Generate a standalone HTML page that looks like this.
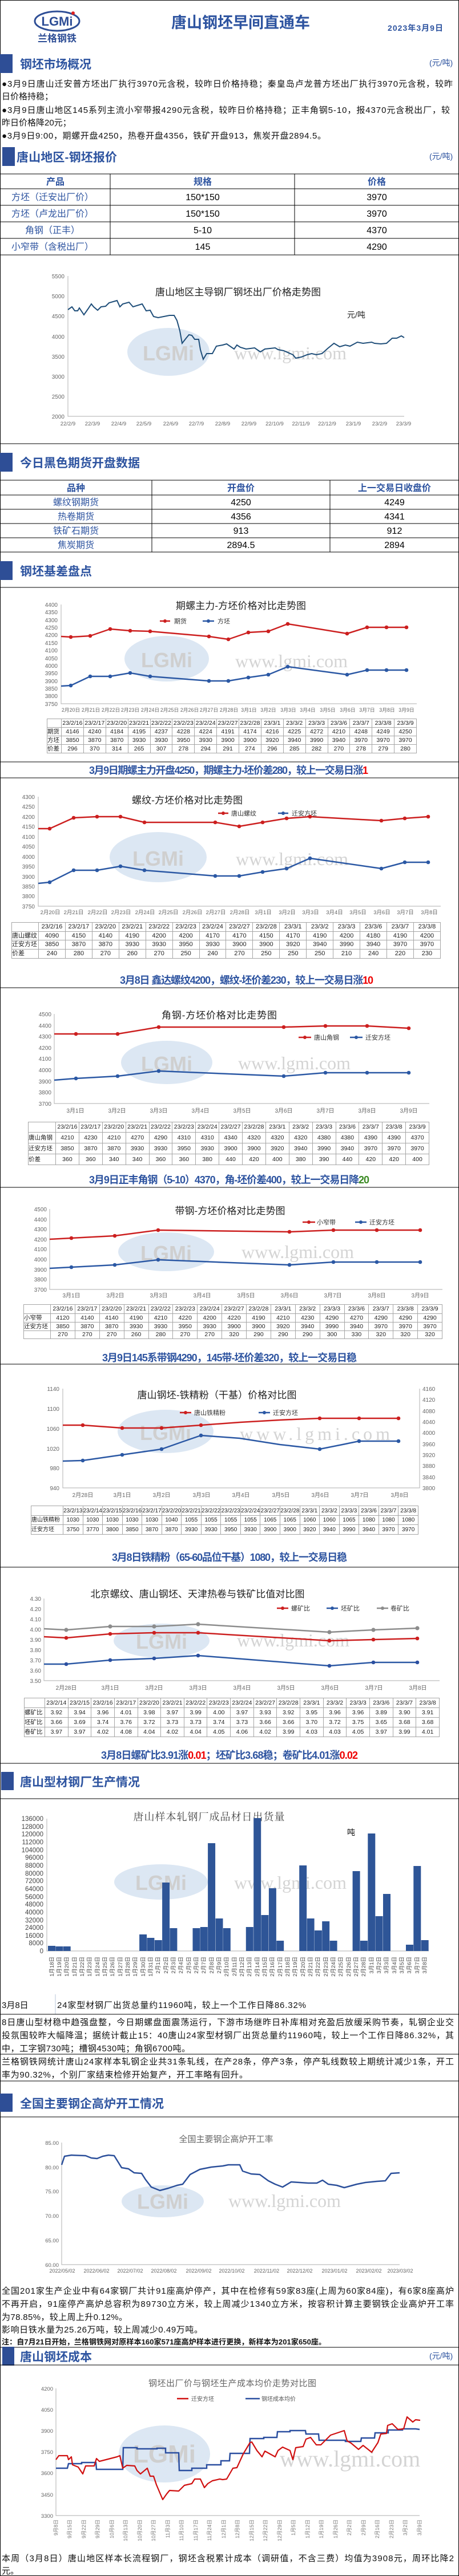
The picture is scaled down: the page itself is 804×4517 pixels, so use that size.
<!DOCTYPE html>
<html><head><meta charset="utf-8"><style>
*{margin:0;padding:0}
body{width:804px;height:4517px;background:#fff;position:relative;overflow:hidden;font-family:"Liberation Sans","Noto Sans CJK SC",sans-serif}
svg{position:absolute;left:0;top:0}
svg text{font-family:"Liberation Sans","Noto Sans CJK SC",sans-serif}
.sec{font-size:21px;font-weight:bold;fill:#2e54a0}
.unit{font-size:14px;fill:#2e54a0}
.p{font-size:15px;fill:#111}
.cap{font-size:18px;font-weight:bold;fill:#2e54a0}
.ct{font-size:17px;fill:#222;text-anchor:middle}
.yl{font-size:10px;fill:#666;text-anchor:end}
.xl{font-size:9.5px;fill:#666;text-anchor:middle}
.lg{font-size:11px;fill:#333}
.wm{font-family:"Liberation Serif",serif!important;font-size:32px;fill:#d4d4d4}
.wl{font-size:36px;font-weight:bold;fill:#cfcfcf}
.ax{stroke:#bdbdbd;stroke-width:1.2;fill:none}
.r{stroke:#cc1f1f;stroke-width:2.5;fill:none;stroke-linejoin:round}
.bl{stroke:#2b58a4;stroke-width:2.5;fill:none;stroke-linejoin:round}
.g{stroke:#8c8c8c;stroke-width:2.5;fill:none;stroke-linejoin:round}
.t{position:absolute;border-collapse:collapse;table-layout:fixed;font-size:10.5px;color:#222;text-align:center}
.t td{border:1px solid #a6a6a6;padding:0;white-space:nowrap;overflow:hidden;line-height:13px}
.t td:first-child{text-align:left}
</style></head><body>
<svg width="804" height="4517" viewBox="0 0 804 4517">
<!-- frame -->
<rect x="0.5" y="0.5" width="803" height="4516" fill="none" stroke="#000" stroke-width="1"/>
<!-- header -->
<ellipse cx="100" cy="37" rx="39" ry="17" fill="none" stroke="#2e4e96" stroke-width="3"/>
<text x="100" y="45" text-anchor="middle" style="font-size:22px;font-weight:bold;fill:#2e4e96">LGMi</text>
<circle cx="128" cy="23" r="3" fill="#d22"/>
<text x="100" y="73" text-anchor="middle" style="font-size:17px;font-weight:bold;fill:#2e4e96">兰格钢铁</text>
<text x="300" y="49" textLength="243" style="font-size:27px;font-weight:bold;fill:#2e54a0">唐山钢坯早间直通车</text>
<text x="679" y="54" textLength="97" style="font-size:14px;font-weight:bold;fill:#2e54a0">2023年3月9日</text>
<!-- section 1 -->
<rect x="0" y="95" width="22" height="33" fill="#2e4e96"/>
<text x="35" y="120" class="sec" textLength="125">钢坯市场概况</text>
<text x="752" y="115" class="unit">(元/吨)</text>
<text x="3" y="152" class="p" textLength="790">●3月9日唐山迁安普方坯出厂执行3970元含税，较昨日价格持稳；秦皇岛卢龙普方坯出厂执行3970元含税，较昨</text>
<text x="3" y="174" class="p">日价格持稳；</text>
<text x="3" y="198" class="p" textLength="785">●3月9日唐山地区145系列主流小窄带报4290元含税，较昨日价格持稳；正丰角钢5-10，报4370元含税出厂，较</text>
<text x="3" y="220" class="p">昨日价格降20元；</text>
<text x="3" y="243" class="p" textLength="568">●3月9日9:00，期螺开盘4250，热卷开盘4356，铁矿开盘913，焦炭开盘2894.5。</text>
<!-- section 2 -->
<rect x="4" y="258" width="22" height="33" fill="#2e4e96"/>
<text x="29" y="283" class="sec" textLength="176">唐山地区-钢坯报价</text>
<text x="752" y="279" class="unit">(元/吨)</text>
<g stroke="#000" stroke-width="1">
<line x1="0" y1="305" x2="804" y2="305"/><line x1="0" y1="331" x2="804" y2="331"/><line x1="0" y1="360" x2="804" y2="360"/><line x1="0" y1="389" x2="804" y2="389"/><line x1="0" y1="418" x2="804" y2="418"/><line x1="0" y1="447" x2="804" y2="447"/>
<line x1="193" y1="305" x2="193" y2="447"/><line x1="516" y1="305" x2="516" y2="447"/>
<line x1="0" y1="778" x2="804" y2="778"/>
</g>
<g style="font-size:16px;text-anchor:middle">
<text x="97" y="324" style="font-weight:bold;fill:#2e54a0">产品</text><text x="355" y="324" style="font-weight:bold;fill:#2e54a0">规格</text><text x="660" y="324" style="font-weight:bold;fill:#2e54a0">价格</text>
<text x="92" y="351" style="fill:#2e54a0">方坯（迁安出厂价）</text><text x="355" y="351">150*150</text><text x="660" y="351">3970</text>
<text x="92" y="380" style="fill:#2e54a0">方坯（卢龙出厂价）</text><text x="355" y="380">150*150</text><text x="660" y="380">3970</text>
<text x="92" y="409" style="fill:#2e54a0">角钢（正丰）</text><text x="355" y="409">5-10</text><text x="660" y="409">4370</text>
<text x="92" y="438" style="fill:#2e54a0">小窄带（含税出厂）</text><text x="355" y="438">145</text><text x="660" y="438">4290</text>
</g>
<!-- chart 0 -->
<ellipse cx="295" cy="617" rx="72" ry="42" fill="#dce7f3"/><text x="295" y="632" text-anchor="middle" class="wl">LGMi</text><text x="410" y="630" class="wm">www.lgmi.com</text>
<text x="417" y="518" class="ct" textLength="290">唐山地区主导钢厂钢坯出厂价格走势图</text>
<text x="608" y="557" style="font-size:14px;fill:#222">元/吨</text>
<path class="ax" d="M119 484V730H708"/>
<g class="yl"><text x="113" y="488">5500</text><text x="113" y="523">5000</text><text x="113" y="558">4500</text><text x="113" y="594">4000</text><text x="113" y="629">3500</text><text x="113" y="664">3000</text><text x="113" y="699">2500</text><text x="113" y="734">2000</text></g>
<g class="xl"><text x="119" y="746">22/2/9</text><text x="162" y="746">22/3/9</text><text x="208" y="746">22/4/9</text><text x="252" y="746">22/5/9</text><text x="299" y="746">22/6/9</text><text x="344" y="746">22/7/9</text><text x="390" y="746">22/8/9</text><text x="436" y="746">22/9/9</text><text x="481" y="746">22/10/9</text><text x="527" y="746">22/11/9</text><text x="573" y="746">22/12/9</text><text x="619" y="746">23/1/9</text><text x="665" y="746">23/2/9</text><text x="707" y="746">23/3/9</text></g>
<polyline style="stroke:#1f4e79;stroke-width:2;fill:none" points="119,543 126,538 131,545 136,545 139,540 147,552 154,542 160,533 164,538 171,544 177,538 185,537 191,531 205,527 210,538 215,533 226,530 233,538 249,533 256,545 263,544 269,555 277,557 287,555 297,553 305,553 310,562 315,580 319,602 326,593 331,587 336,588 341,595 348,595 351,613 356,630 362,620 372,620 379,607 390,605 397,603 410,612 415,605 421,609 431,612 446,610 456,617 464,612 482,610 487,613 497,615 513,622 518,628 528,626 538,622 546,620 554,622 564,620 574,611 585,602 595,608 605,605 613,607 626,600 636,602 651,600 656,602 667,603 677,602 687,593 695,593 703,589 708,592"/>
<!-- section 3 -->
<rect x="0" y="794" width="22" height="33" fill="#2e4e96"/>
<text x="35" y="819" class="sec" textLength="210">今日黑色期货开盘数据</text>
<g stroke="#000" stroke-width="1">
<line x1="0" y1="842" x2="804" y2="842"/><line x1="0" y1="868" x2="804" y2="868"/><line x1="0" y1="893" x2="804" y2="893"/><line x1="0" y1="918" x2="804" y2="918"/><line x1="0" y1="943" x2="804" y2="943"/><line x1="0" y1="968" x2="804" y2="968"/>
<line x1="266" y1="842" x2="266" y2="968"/><line x1="578" y1="842" x2="578" y2="968"/>
<line x1="0" y1="1030" x2="804" y2="1030"/>
</g>
<g style="font-size:16px;text-anchor:middle">
<text x="133" y="861" style="font-weight:bold;fill:#2e54a0">品种</text><text x="422" y="861" style="font-weight:bold;fill:#2e54a0">开盘价</text><text x="691" y="861" style="font-weight:bold;fill:#2e54a0">上一交易日收盘价</text>
<text x="133" y="886" style="fill:#2e54a0">螺纹钢期货</text><text x="422" y="886">4250</text><text x="691" y="886">4249</text>
<text x="133" y="911" style="fill:#2e54a0">热卷期货</text><text x="422" y="911">4356</text><text x="691" y="911">4341</text>
<text x="133" y="936" style="fill:#2e54a0">铁矿石期货</text><text x="422" y="936">913</text><text x="691" y="936">912</text>
<text x="133" y="961" style="fill:#2e54a0">焦炭期货</text><text x="422" y="961">2894.5</text><text x="691" y="961">2894</text>
</g>
<!-- section 4 -->
<rect x="0" y="984" width="22" height="33" fill="#2e4e96"/>
<text x="35" y="1009" class="sec" textLength="126">钢坯基差盘点</text>
<!-- chart 1 -->
<ellipse cx="292" cy="1155" rx="74" ry="40" fill="#dce7f3"/><text x="292" y="1170" text-anchor="middle" class="wl">LGMi</text><text x="412" y="1170" class="wm">www.lgmi.com</text>
<text x="422" y="1068" class="ct" textLength="228">期螺主力-方坯价格对比走势图</text>
<line x1="280" y1="1089" x2="298" y2="1089" class="r"/><circle cx="289" cy="1089" r="3" fill="#cc1f1f"/><text x="305" y="1093" class="lg">期货</text>
<line x1="355" y1="1089" x2="375" y2="1089" class="bl"/><circle cx="365" cy="1089" r="3" fill="#2b58a4"/><text x="381" y="1093" class="lg">方坯</text>
<path class="ax" d="M107 1060V1234H730"/>
<g class="yl"><text x="101" y="1064">4400</text><text x="101" y="1077">4350</text><text x="101" y="1091">4300</text><text x="101" y="1104">4250</text><text x="101" y="1117">4200</text><text x="101" y="1131">4150</text><text x="101" y="1144">4100</text><text x="101" y="1158">4050</text><text x="101" y="1171">4000</text><text x="101" y="1184">3950</text><text x="101" y="1198">3900</text><text x="101" y="1211">3850</text><text x="101" y="1224">3800</text><text x="101" y="1238">3750</text></g>
<g class="xl" style="font-size:8.8px"><text x="124" y="1248">2月20日</text><text x="159" y="1248">2月21日</text><text x="194" y="1248">2月22日</text><text x="228" y="1248">2月23日</text><text x="263" y="1248">2月24日</text><text x="297" y="1248">2月25日</text><text x="332" y="1248">2月26日</text><text x="366" y="1248">2月27日</text><text x="401" y="1248">2月28日</text><text x="436" y="1248">3月1日</text><text x="470" y="1248">3月2日</text><text x="505" y="1248">3月3日</text><text x="539" y="1248">3月4日</text><text x="574" y="1248">3月5日</text><text x="609" y="1248">3月6日</text><text x="643" y="1248">3月7日</text><text x="678" y="1248">3月8日</text><text x="712" y="1248">3月9日</text></g>
<polyline class="r" points="107,1116 124,1117 158,1115 193,1103 228,1106 263,1107 366,1116 400,1121 435,1109 470,1107 504,1094 608,1111 643,1100 677,1100 712,1100"/>
<polyline class="bl" points="107,1203 124,1202 158,1186 193,1186 228,1180 263,1186 366,1194 400,1194 435,1188 470,1183 504,1169 608,1183 643,1175 677,1175 712,1175"/>
<g fill="#cc1f1f"><circle cx="124" cy="1117" r="3.3"/><circle cx="158" cy="1115" r="3.3"/><circle cx="193" cy="1103" r="3.3"/><circle cx="228" cy="1106" r="3.3"/><circle cx="263" cy="1107" r="3.3"/><circle cx="366" cy="1116" r="3.3"/><circle cx="400" cy="1121" r="3.3"/><circle cx="435" cy="1109" r="3.3"/><circle cx="470" cy="1107" r="3.3"/><circle cx="504" cy="1094" r="3.3"/><circle cx="608" cy="1111" r="3.3"/><circle cx="643" cy="1100" r="3.3"/><circle cx="677" cy="1100" r="3.3"/><circle cx="712" cy="1100" r="3.3"/></g>
<g fill="#2b58a4"><circle cx="124" cy="1202" r="3.3"/><circle cx="158" cy="1186" r="3.3"/><circle cx="193" cy="1186" r="3.3"/><circle cx="228" cy="1180" r="3.3"/><circle cx="263" cy="1186" r="3.3"/><circle cx="366" cy="1194" r="3.3"/><circle cx="400" cy="1194" r="3.3"/><circle cx="435" cy="1188" r="3.3"/><circle cx="470" cy="1183" r="3.3"/><circle cx="504" cy="1169" r="3.3"/><circle cx="608" cy="1183" r="3.3"/><circle cx="643" cy="1175" r="3.3"/><circle cx="677" cy="1175" r="3.3"/><circle cx="712" cy="1175" r="3.3"/></g>
<g stroke="#000" stroke-width="1"><line x1="0" y1="1336" x2="804" y2="1336"/><line x1="0" y1="1364" x2="804" y2="1364"/></g>
<text x="156" y="1357" class="cap" textLength="489">3月9日期螺主力开盘4250，期螺主力-坯价差280，较上一交易日涨<tspan fill="#e00">1</tspan></text>
<!-- chart 2 -->
<ellipse cx="277" cy="1503" rx="85" ry="44" fill="#dce7f3"/><text x="277" y="1518" text-anchor="middle" class="wl">LGMi</text><text x="413" y="1517" class="wm">www.lgmi.com</text>
<text x="328" y="1409" class="ct" textLength="194">螺纹-方坯价格对比走势图</text>
<line x1="382" y1="1426" x2="400" y2="1426" class="r"/><circle cx="391" cy="1426" r="3" fill="#cc1f1f"/><text x="405" y="1430" class="lg">唐山螺纹</text>
<line x1="487" y1="1426" x2="505" y2="1426" class="bl"/><circle cx="496" cy="1426" r="3" fill="#2b58a4"/><text x="511" y="1430" class="lg">迁安方坯</text>
<path class="ax" d="M67 1397V1589H772"/>
<g class="yl"><text x="61" y="1401">4300</text><text x="61" y="1418">4250</text><text x="61" y="1436">4200</text><text x="61" y="1453">4150</text><text x="61" y="1471">4100</text><text x="61" y="1488">4050</text><text x="61" y="1506">4000</text><text x="61" y="1523">3950</text><text x="61" y="1541">3900</text><text x="61" y="1558">3850</text><text x="61" y="1575">3800</text><text x="61" y="1593">3750</text></g>
<g class="xl"><text x="88" y="1603">2月20日</text><text x="129" y="1603">2月21日</text><text x="171" y="1603">2月22日</text><text x="212" y="1603">2月23日</text><text x="254" y="1603">2月24日</text><text x="295" y="1603">2月25日</text><text x="337" y="1603">2月26日</text><text x="378" y="1603">2月27日</text><text x="420" y="1603">2月28日</text><text x="461" y="1603">3月1日</text><text x="503" y="1603">3月2日</text><text x="544" y="1603">3月3日</text><text x="586" y="1603">3月4日</text><text x="627" y="1603">3月5日</text><text x="669" y="1603">3月6日</text><text x="710" y="1603">3月7日</text><text x="752" y="1603">3月8日</text></g>
<polyline class="r" points="67,1453 87,1453 129,1434 170,1432 211,1432 253,1442 377,1442 419,1449 460,1442 502,1435 543,1432 668,1439 709,1435 750,1432"/>
<polyline class="bl" points="67,1549 87,1547 129,1526 170,1526 211,1519 253,1526 377,1536 419,1536 460,1529 502,1523 543,1505 668,1523 709,1512 750,1512"/>
<g fill="#cc1f1f"><circle cx="87" cy="1453" r="3.3"/><circle cx="129" cy="1434" r="3.3"/><circle cx="170" cy="1432" r="3.3"/><circle cx="211" cy="1432" r="3.3"/><circle cx="253" cy="1442" r="3.3"/><circle cx="377" cy="1442" r="3.3"/><circle cx="419" cy="1449" r="3.3"/><circle cx="460" cy="1442" r="3.3"/><circle cx="502" cy="1435" r="3.3"/><circle cx="543" cy="1432" r="3.3"/><circle cx="668" cy="1439" r="3.3"/><circle cx="709" cy="1435" r="3.3"/><circle cx="750" cy="1432" r="3.3"/></g>
<g fill="#2b58a4"><circle cx="87" cy="1547" r="3.3"/><circle cx="129" cy="1526" r="3.3"/><circle cx="170" cy="1526" r="3.3"/><circle cx="211" cy="1519" r="3.3"/><circle cx="253" cy="1526" r="3.3"/><circle cx="377" cy="1536" r="3.3"/><circle cx="419" cy="1536" r="3.3"/><circle cx="460" cy="1529" r="3.3"/><circle cx="502" cy="1523" r="3.3"/><circle cx="543" cy="1505" r="3.3"/><circle cx="668" cy="1523" r="3.3"/><circle cx="709" cy="1512" r="3.3"/><circle cx="750" cy="1512" r="3.3"/></g>
<text x="210" y="1725" class="cap" textLength="444">3月8日 鑫达螺纹4200，螺纹-坯价差230，较上一交易日涨<tspan fill="#e00">10</tspan></text>
<line x1="0" y1="1732" x2="804" y2="1732" stroke="#000"/>
<!-- chart 3 -->
<ellipse cx="292" cy="1863" rx="80" ry="38" fill="#dce7f3"/><text x="292" y="1878" text-anchor="middle" class="wl">LGMi</text><text x="417" y="1875" class="wm">www.lgmi.com</text>
<text x="384" y="1786" class="ct" textLength="202">角钢-方坯价格对比走势图</text>
<line x1="523" y1="1819" x2="545" y2="1819" class="r"/><circle cx="534" cy="1819" r="3" fill="#cc1f1f"/><text x="550" y="1823" class="lg">唐山角钢</text>
<line x1="613" y1="1819" x2="635" y2="1819" class="bl"/><circle cx="624" cy="1819" r="3" fill="#2b58a4"/><text x="640" y="1823" class="lg">迁安方坯</text>
<path class="ax" d="M95 1778V1935H752"/>
<g class="yl"><text x="90" y="1782">4500</text><text x="90" y="1802">4400</text><text x="90" y="1821">4300</text><text x="90" y="1841">4200</text><text x="90" y="1860">4100</text><text x="90" y="1880">4000</text><text x="90" y="1900">3900</text><text x="90" y="1919">3800</text><text x="90" y="1939">3700</text></g>
<g class="xl" style="font-size:10px"><text x="132" y="1951">3月1日</text><text x="205" y="1951">3月2日</text><text x="278" y="1951">3月3日</text><text x="351" y="1951">3月4日</text><text x="424" y="1951">3月5日</text><text x="497" y="1951">3月6日</text><text x="570" y="1951">3月7日</text><text x="643" y="1951">3月8日</text><text x="716" y="1951">3月9日</text></g>
<polyline class="r" points="95,1813 133,1813 206,1813 278,1801 497,1801 570,1799 643,1799 716,1803"/>
<polyline class="bl" points="95,1894 133,1891 206,1887 278,1878 497,1887 570,1881 643,1881 716,1881"/>
<g fill="#cc1f1f"><circle cx="133" cy="1813" r="3.3"/><circle cx="206" cy="1813" r="3.3"/><circle cx="278" cy="1801" r="3.3"/><circle cx="497" cy="1801" r="3.3"/><circle cx="570" cy="1799" r="3.3"/><circle cx="643" cy="1799" r="3.3"/><circle cx="716" cy="1803" r="3.3"/></g>
<g fill="#2b58a4"><circle cx="133" cy="1891" r="3.3"/><circle cx="206" cy="1887" r="3.3"/><circle cx="278" cy="1878" r="3.3"/><circle cx="497" cy="1887" r="3.3"/><circle cx="570" cy="1881" r="3.3"/><circle cx="643" cy="1881" r="3.3"/><circle cx="716" cy="1881" r="3.3"/></g>
<text x="156" y="2075" class="cap" textLength="491">3月9日正丰角钢（5-10）4370，角-坯价差400，较上一交易日降<tspan fill="#3a8a22">20</tspan></text>
<line x1="0" y1="2082" x2="804" y2="2082" stroke="#000"/>
<!-- chart 4 -->
<ellipse cx="291" cy="2195" rx="84" ry="34" fill="#dce7f3"/><text x="291" y="2210" text-anchor="middle" class="wl">LGMi</text><text x="423" y="2206" class="wm">www.lgmi.com</text>
<text x="403" y="2129" class="ct" textLength="193">带钢-方坯价格对比走势图</text>
<line x1="530" y1="2143" x2="552" y2="2143" class="r"/><circle cx="541" cy="2143" r="3" fill="#cc1f1f"/><text x="555" y="2147" class="lg">小窄带</text>
<line x1="622" y1="2143" x2="642" y2="2143" class="bl"/><circle cx="632" cy="2143" r="3" fill="#2b58a4"/><text x="647" y="2147" class="lg">迁安方坯</text>
<path class="ax" d="M87 2120V2261H775"/>
<g class="yl"><text x="82" y="2124">4500</text><text x="82" y="2142">4400</text><text x="82" y="2159">4300</text><text x="82" y="2177">4200</text><text x="82" y="2194">4100</text><text x="82" y="2212">4000</text><text x="82" y="2230">3900</text><text x="82" y="2247">3800</text><text x="82" y="2265">3700</text></g>
<g class="xl" style="font-size:10px"><text x="125" y="2275">3月1日</text><text x="202" y="2275">3月2日</text><text x="278" y="2275">3月3日</text><text x="354" y="2275">3月4日</text><text x="431" y="2275">3月5日</text><text x="507" y="2275">3月6日</text><text x="583" y="2275">3月7日</text><text x="660" y="2275">3月8日</text><text x="736" y="2275">3月9日</text></g>
<polyline class="r" points="87,2173 125,2171 201,2167 277,2157 507,2160 584,2157 660,2157 736,2157"/>
<polyline class="bl" points="87,2224 125,2222 201,2218 277,2209 507,2218 584,2213 660,2213 736,2213"/>
<g fill="#cc1f1f"><circle cx="125" cy="2171" r="3.3"/><circle cx="201" cy="2167" r="3.3"/><circle cx="277" cy="2157" r="3.3"/><circle cx="507" cy="2160" r="3.3"/><circle cx="584" cy="2157" r="3.3"/><circle cx="660" cy="2157" r="3.3"/><circle cx="736" cy="2157" r="3.3"/></g>
<g fill="#2b58a4"><circle cx="125" cy="2222" r="3.3"/><circle cx="201" cy="2218" r="3.3"/><circle cx="277" cy="2209" r="3.3"/><circle cx="507" cy="2218" r="3.3"/><circle cx="584" cy="2213" r="3.3"/><circle cx="660" cy="2213" r="3.3"/><circle cx="736" cy="2213" r="3.3"/></g>
<text x="179" y="2387" class="cap" textLength="446">3月9日145系带钢4290，145带-坯价差320，较上一交易日稳</text>
<line x1="0" y1="2392" x2="804" y2="2392" stroke="#000"/>
<!-- chart 5 -->
<ellipse cx="290" cy="2510" rx="84" ry="38" fill="#dce7f3"/><text x="290" y="2525" text-anchor="middle" class="wl">LGMi</text><text x="420" y="2525" class="wm" style="letter-spacing:6px">www.lgmi.com</text>
<text x="380" y="2452" class="ct" textLength="279">唐山钢坯-铁精粉（干基）价格对比图</text>
<line x1="315" y1="2477" x2="335" y2="2477" class="r"/><circle cx="325" cy="2477" r="3" fill="#cc1f1f"/><text x="340" y="2481" class="lg">唐山铁精粉</text>
<line x1="453" y1="2477" x2="473" y2="2477" class="bl"/><circle cx="463" cy="2477" r="3" fill="#2b58a4"/><text x="478" y="2481" class="lg">迁安方坯</text>
<path class="ax" d="M110 2435V2609H735V2435"/>
<g class="yl"><text x="104" y="2439">1140</text><text x="104" y="2474">1100</text><text x="104" y="2509">1060</text><text x="104" y="2544">1020</text><text x="104" y="2578">980</text><text x="104" y="2613">940</text></g>
<g class="yl" style="text-anchor:start"><text x="740" y="2439">4160</text><text x="740" y="2458">4120</text><text x="740" y="2478">4080</text><text x="740" y="2497">4040</text><text x="740" y="2516">4000</text><text x="740" y="2536">3960</text><text x="740" y="2555">3920</text><text x="740" y="2574">3880</text><text x="740" y="2594">3840</text><text x="740" y="2613">3800</text></g>
<g class="xl" style="font-size:10px"><text x="145" y="2625">2月28日</text><text x="214" y="2625">3月1日</text><text x="283" y="2625">3月2日</text><text x="353" y="2625">3月3日</text><text x="422" y="2625">3月4日</text><text x="492" y="2625">3月5日</text><text x="561" y="2625">3月6日</text><text x="630" y="2625">3月7日</text><text x="700" y="2625">3月8日</text></g>
<polyline class="r" points="110,2499 145,2499 214,2504 283,2504 352,2499 420,2494 490,2490 560,2487 629,2487 698,2487"/>
<polyline class="bl" points="110,2562 145,2561 214,2551 283,2541 320,2528 352,2517 420,2522 490,2533 560,2541 600,2533 629,2527 698,2527"/>
<g fill="#cc1f1f"><circle cx="145" cy="2499" r="3.3"/><circle cx="214" cy="2504" r="3.3"/><circle cx="283" cy="2504" r="3.3"/><circle cx="352" cy="2499" r="3.3"/><circle cx="560" cy="2487" r="3.3"/><circle cx="629" cy="2487" r="3.3"/><circle cx="698" cy="2487" r="3.3"/></g>
<g fill="#2b58a4"><circle cx="145" cy="2561" r="3.3"/><circle cx="214" cy="2551" r="3.3"/><circle cx="283" cy="2541" r="3.3"/><circle cx="352" cy="2517" r="3.3"/><circle cx="560" cy="2541" r="3.3"/><circle cx="629" cy="2527" r="3.3"/><circle cx="698" cy="2527" r="3.3"/></g>
<text x="196" y="2737" class="cap" textLength="412">3月8日铁精粉（65-60品位干基）1080，较上一交易日稳</text>
<line x1="0" y1="2748" x2="804" y2="2748" stroke="#000"/>
<!-- chart 6 -->
<ellipse cx="283" cy="2877" rx="84" ry="30" fill="#dce7f3"/><text x="283" y="2891" text-anchor="middle" class="wl">LGMi</text><text x="415" y="2887" class="wm">www.lgmi.com</text>
<text x="346" y="2801" class="ct" textLength="375">北京螺纹、唐山钢坯、天津热卷与铁矿比值对比图</text>
<line x1="485" y1="2820" x2="505" y2="2820" class="r"/><circle cx="495" cy="2820" r="3" fill="#cc1f1f"/><text x="510" y="2824" class="lg" fill="#555">螺矿比</text>
<line x1="572" y1="2820" x2="592" y2="2820" class="bl"/><circle cx="582" cy="2820" r="3" fill="#2b58a4"/><text x="597" y="2824" class="lg">坯矿比</text>
<line x1="660" y1="2820" x2="680" y2="2820" class="g"/><circle cx="670" cy="2820" r="3" fill="#8c8c8c"/><text x="684" y="2824" class="lg">卷矿比</text>
<path class="ax" d="M77 2803V2947H770"/>
<g class="yl"><text x="72" y="2807">4.30</text><text x="72" y="2825">4.20</text><text x="72" y="2843">4.10</text><text x="72" y="2861">4.00</text><text x="72" y="2879">3.90</text><text x="72" y="2897">3.80</text><text x="72" y="2915">3.70</text><text x="72" y="2933">3.60</text><text x="72" y="2951">3.50</text></g>
<g class="xl" style="font-size:10px"><text x="116" y="2963">2月28日</text><text x="193" y="2963">3月1日</text><text x="270" y="2963">3月2日</text><text x="347" y="2963">3月3日</text><text x="424" y="2963">3月4日</text><text x="501" y="2963">3月5日</text><text x="578" y="2963">3月6日</text><text x="655" y="2963">3月7日</text><text x="732" y="2963">3月8日</text></g>
<polyline class="g" points="77,2856 116,2858 193,2852 270,2852 347,2848 577,2862 654,2858 731,2855"/>
<polyline class="r" points="77,2870 116,2872 193,2865 270,2863 347,2863 577,2877 654,2875 731,2873"/>
<polyline class="bl" points="77,2918 116,2918 193,2911 270,2908 347,2903 577,2921 654,2915 731,2915"/>
<g fill="#8c8c8c"><circle cx="116" cy="2858" r="3.6"/><circle cx="193" cy="2852" r="3.6"/><circle cx="270" cy="2852" r="3.6"/><circle cx="347" cy="2848" r="3.6"/><circle cx="577" cy="2862" r="3.6"/><circle cx="654" cy="2858" r="3.6"/><circle cx="731" cy="2855" r="3.6"/></g>
<g fill="#cc1f1f"><circle cx="116" cy="2872" r="3.3"/><circle cx="193" cy="2865" r="3.3"/><circle cx="270" cy="2863" r="3.3"/><circle cx="347" cy="2863" r="3.3"/><circle cx="577" cy="2877" r="3.3"/><circle cx="654" cy="2875" r="3.3"/><circle cx="731" cy="2873" r="3.3"/></g>
<g fill="#2b4fa0"><circle cx="116" cy="2918" r="3.3"/><circle cx="193" cy="2911" r="3.3"/><circle cx="270" cy="2908" r="3.3"/><circle cx="347" cy="2903" r="3.3"/><circle cx="577" cy="2921" r="3.3"/><circle cx="654" cy="2915" r="3.3"/><circle cx="731" cy="2915" r="3.3"/></g>
<text x="177" y="3084" class="cap" textLength="450">3月8日螺矿比3.91涨<tspan fill="#e00">0.01</tspan>；坯矿比3.68稳；卷矿比4.01涨<tspan fill="#e00">0.02</tspan></text>
<line x1="0" y1="3092" x2="804" y2="3092" stroke="#000"/>
<!-- section 5 -->
<rect x="2" y="3107" width="22" height="32" fill="#2e4e96"/>
<text x="35" y="3132" class="sec" textLength="210">唐山型材钢厂生产情况</text>
<line x1="0" y1="3154" x2="804" y2="3154" stroke="#000"/>
<!-- chart 7 -->
<ellipse cx="282" cy="3300" rx="82" ry="31" fill="#dce7f3"/><text x="282" y="3314" text-anchor="middle" class="wl">LGMi</text><text x="410" y="3312" class="wm">www.lgmi.com</text>
<text x="366" y="3192" textLength="265" style="font-family:'Liberation Serif','Noto Serif CJK SC',serif;font-size:18px;fill:#444;text-anchor:middle">唐山样本轧钢厂成品材日出货量</text>
<text x="608" y="3218" style="font-size:14px;fill:#111">吨</text>
<path class="ax" d="M82 3189V3421H751"/>
<g class="yl" style="font-size:11.5px;fill:#444"><text x="76" y="3193">136000</text><text x="76" y="3207">128000</text><text x="76" y="3220">120000</text><text x="76" y="3234">112000</text><text x="76" y="3248">104000</text><text x="76" y="3261">96000</text><text x="76" y="3275">88000</text><text x="76" y="3289">80000</text><text x="76" y="3302">72000</text><text x="76" y="3316">64000</text><text x="76" y="3330">56000</text><text x="76" y="3343">48000</text><text x="76" y="3357">40000</text><text x="76" y="3371">32000</text><text x="76" y="3384">24000</text><text x="76" y="3398">16000</text><text x="76" y="3411">8000</text><text x="76" y="3425">0</text></g>
<g fill="#2e5597">
<rect x="84" y="3412" width="13" height="9"/><rect x="97.3" y="3413" width="13" height="8"/><rect x="110.7" y="3413" width="13" height="8"/>
<rect x="244.1" y="3392" width="13" height="29"/><rect x="257.4" y="3398" width="13" height="23"/><rect x="270.8" y="3402" width="13" height="19"/><rect x="284.1" y="3301" width="13" height="120"/><rect x="297.4" y="3381" width="13" height="40"/>
<rect x="337.5" y="3381" width="13" height="40"/><rect x="350.8" y="3379" width="13" height="42"/><rect x="364.1" y="3232" width="13" height="189"/><rect x="377.5" y="3364" width="13" height="57"/><rect x="390.8" y="3381" width="13" height="40"/>
<rect x="430.8" y="3379" width="13" height="42"/><rect x="444.2" y="3188" width="13" height="233"/><rect x="457.5" y="3358" width="13" height="63"/><rect x="470.9" y="3311" width="13" height="110"/><rect x="484.2" y="3403" width="13" height="18"/>
<rect x="524.2" y="3271" width="13" height="150"/><rect x="537.6" y="3364" width="13" height="57"/><rect x="550.9" y="3385" width="13" height="36"/><rect x="564.2" y="3369" width="13" height="52"/><rect x="577.6" y="3403" width="13" height="18"/>
<rect x="617.6" y="3281" width="13" height="140"/><rect x="630.9" y="3403" width="13" height="18"/><rect x="644.3" y="3215" width="13" height="206"/><rect x="657.6" y="3360" width="13" height="61"/><rect x="671" y="3321" width="13" height="100"/>
<rect x="711" y="3410" width="13" height="11"/><rect x="724.3" y="3272" width="13" height="149"/><rect x="737.7" y="3402" width="13" height="19"/>
</g>
<g style="font-size:9.5px;fill:#444;text-anchor:end">
<text transform="translate(94,3431) rotate(-90)">1月18日</text><text transform="translate(107,3431) rotate(-90)">1月19日</text><text transform="translate(120,3431) rotate(-90)">1月20日</text><text transform="translate(134,3431) rotate(-90)">1月21日</text><text transform="translate(147,3431) rotate(-90)">1月22日</text><text transform="translate(160,3431) rotate(-90)">1月23日</text><text transform="translate(174,3431) rotate(-90)">1月24日</text><text transform="translate(187,3431) rotate(-90)">1月25日</text><text transform="translate(200,3431) rotate(-90)">1月26日</text><text transform="translate(214,3431) rotate(-90)">1月27日</text><text transform="translate(227,3431) rotate(-90)">1月28日</text><text transform="translate(240,3431) rotate(-90)">1月29日</text><text transform="translate(254,3431) rotate(-90)">1月30日</text><text transform="translate(267,3431) rotate(-90)">1月31日</text>
<text transform="translate(280,3431) rotate(-90)">2月1日</text><text transform="translate(294,3431) rotate(-90)">2月2日</text><text transform="translate(307,3431) rotate(-90)">2月3日</text><text transform="translate(320,3431) rotate(-90)">2月4日</text><text transform="translate(334,3431) rotate(-90)">2月5日</text><text transform="translate(347,3431) rotate(-90)">2月6日</text><text transform="translate(360,3431) rotate(-90)">2月7日</text><text transform="translate(374,3431) rotate(-90)">2月8日</text><text transform="translate(387,3431) rotate(-90)">2月9日</text><text transform="translate(400,3431) rotate(-90)">2月10日</text><text transform="translate(414,3431) rotate(-90)">2月11日</text><text transform="translate(427,3431) rotate(-90)">2月12日</text><text transform="translate(440,3431) rotate(-90)">2月13日</text><text transform="translate(454,3431) rotate(-90)">2月14日</text><text transform="translate(467,3431) rotate(-90)">2月15日</text><text transform="translate(480,3431) rotate(-90)">2月16日</text><text transform="translate(494,3431) rotate(-90)">2月17日</text><text transform="translate(507,3431) rotate(-90)">2月18日</text><text transform="translate(520,3431) rotate(-90)">2月19日</text><text transform="translate(534,3431) rotate(-90)">2月20日</text><text transform="translate(547,3431) rotate(-90)">2月21日</text><text transform="translate(560,3431) rotate(-90)">2月22日</text><text transform="translate(574,3431) rotate(-90)">2月23日</text><text transform="translate(587,3431) rotate(-90)">2月24日</text><text transform="translate(600,3431) rotate(-90)">2月25日</text><text transform="translate(614,3431) rotate(-90)">2月26日</text><text transform="translate(627,3431) rotate(-90)">2月27日</text><text transform="translate(640,3431) rotate(-90)">2月28日</text>
<text transform="translate(654,3431) rotate(-90)">3月1日</text><text transform="translate(667,3431) rotate(-90)">3月2日</text><text transform="translate(680,3431) rotate(-90)">3月3日</text><text transform="translate(694,3431) rotate(-90)">3月4日</text><text transform="translate(707,3431) rotate(-90)">3月5日</text><text transform="translate(720,3431) rotate(-90)">3月6日</text><text transform="translate(734,3431) rotate(-90)">3月7日</text><text transform="translate(747,3431) rotate(-90)">3月8日</text>
</g>
<line x1="97" y1="3497" x2="97" y2="3532" stroke="#b8c4d8"/>
<text x="3" y="3521" class="p">3月8日</text>
<text x="100" y="3521" class="p" textLength="436">24家型材钢厂出货总量约11960吨，较上一个工作日降86.32%</text>
<line x1="0" y1="3532" x2="804" y2="3532" stroke="#000"/>
<text x="3" y="3551" class="p" textLength="792">8日唐山型材稳中趋强盘整，今日期螺盘面震荡运行，下游市场继昨日补库相对充盈后放缓采购节奏，轧钢企业交</text>
<text x="3" y="3574" class="p" textLength="792">投氛围较昨大幅降温；据统计截止15：40唐山24家型材钢厂出货总量约11960吨，较上一个工作日降86.32%，其</text>
<text x="3" y="3597" class="p" textLength="330">中，工字钢730吨；槽钢4530吨；角钢6700吨。</text>
<line x1="0" y1="3602" x2="804" y2="3602" stroke="#000"/>
<text x="3" y="3620" class="p" textLength="792">兰格钢铁网统计唐山24家样本轧钢企业共31条轧线，在产28条，停产3条，停产轧线数较上期统计减少1条，开工</text>
<text x="3" y="3643" class="p" textLength="431">率为90.32%，个别厂家结束检修开始复产，开工率略有回升。</text>
<line x1="0" y1="3649" x2="804" y2="3649" stroke="#000"/>
<!-- section 6 -->
<rect x="0" y="3671" width="22" height="32" fill="#2e4e96"/>
<text x="35" y="3696" class="sec" textLength="252">全国主要钢企高炉开工情况</text>
<line x1="0" y1="3712" x2="804" y2="3712" stroke="#000"/>
<!-- chart 8 -->
<ellipse cx="285" cy="3860" rx="72" ry="28" fill="#dce7f3"/><text x="285" y="3873" text-anchor="middle" class="wl">LGMi</text><text x="400" y="3870" class="wm">www.lgmi.com</text>
<text x="396" y="3756" textLength="165" style="font-size:15px;fill:#666;text-anchor:middle">全国主要钢企高炉开工率</text>
<path class="ax" d="M108 3757V3971H700"/>
<g class="yl" style="font-size:9.5px"><text x="103" y="3761">85.00</text><text x="103" y="3804">80.00</text><text x="103" y="3846">75.00</text><text x="103" y="3889">70.00</text><text x="103" y="3932">65.00</text><text x="103" y="3975">60.00</text></g>
<g class="xl" style="font-size:9px"><text x="109" y="3985">2022/05/02</text><text x="169" y="3985">2022/06/02</text><text x="228" y="3985">2022/07/02</text><text x="287" y="3985">2022/08/02</text><text x="348" y="3985">2022/09/02</text><text x="406" y="3985">2022/10/02</text><text x="467" y="3985">2022/11/02</text><text x="525" y="3985">2022/12/02</text><text x="586" y="3985">2023/01/02</text><text x="646" y="3985">2023/02/02</text><text x="701" y="3985">2023/03/02</text></g>
<polyline style="stroke:#2b4f9a;stroke-width:2.5;fill:none;stroke-linejoin:round" points="108,3796 113,3781 125,3779 150,3780 160,3784 170,3785 180,3781 190,3779 200,3780 205,3788 213,3801 225,3803 235,3810 248,3811 255,3822 265,3835 280,3841 295,3837 310,3832 320,3830 333,3813 350,3804 370,3800 390,3798 400,3796 420,3796 425,3807 440,3812 455,3813 470,3824 482,3830 495,3835 510,3826 540,3828 555,3828 565,3823 575,3830 590,3832 603,3836 625,3830 640,3827 660,3825 675,3824 685,3811 700,3810"/>
<text x="3" y="4022" class="p" textLength="792">全国201家生产企业中有64家钢厂共计91座高炉停产，其中在检修有59家83座(上周为60家84座)，有6家8座高炉</text>
<text x="3" y="4045" class="p" textLength="792">不再开启，91座停产高炉总容积为89730立方米，较上周减少1340立方米，按容积计算主要钢铁企业高炉开工率</text>
<text x="3" y="4068" class="p" textLength="220">为78.85%，较上周上升0.12%。</text>
<text x="3" y="4090" class="p" textLength="352">影响日铁水量为25.26万吨，较上周减少0.49万吨。</text>
<text x="3" y="4111" textLength="568" style="font-size:13px;font-weight:bold;fill:#111">注：自7月21日开始，兰格钢铁网对原样本160家571座高炉样本进行更换，新样本为201家650座。</text>
<!-- section 7 -->
<line x1="0" y1="4116" x2="804" y2="4116" stroke="#000"/>
<rect x="4" y="4115" width="21" height="33" fill="#2e4e96"/>
<text x="35" y="4140" class="sec" textLength="126">唐山钢坯成本</text>
<text x="752" y="4136" class="unit">(元/吨)</text>
<line x1="0" y1="4147" x2="804" y2="4147" stroke="#000"/>
<!-- chart 9 -->
<ellipse cx="288" cy="4303" rx="80" ry="50" fill="#dce7f3"/><text x="288" y="4318" text-anchor="middle" class="wl" style="font-size:44px">LGMi</text><text x="490" y="4325" class="wm" style="font-size:40px">www.lgmi.com</text>
<text x="407" y="4184" textLength="294" style="font-size:15px;fill:#666;text-anchor:middle">钢坯出厂价与钢坯生产成本均价走势对比图</text>
<line x1="310" y1="4206" x2="330" y2="4206" style="stroke:#d01010;stroke-width:2.5"/><text x="335" y="4210" class="lg" style="font-size:10px;fill:#555">迁安方坯</text>
<line x1="430" y1="4206" x2="455" y2="4206" style="stroke:#2b4fa0;stroke-width:2.5"/><text x="458" y="4210" class="lg" style="font-size:10px;fill:#555">钢坯成本均价</text>
<path class="ax" d="M98 4188V4411H735"/>
<g class="yl" style="font-size:9.5px"><text x="93" y="4192">4200</text><text x="93" y="4229">4050</text><text x="93" y="4266">3900</text><text x="93" y="4303">3750</text><text x="93" y="4340">3600</text><text x="93" y="4378">3450</text><text x="93" y="4415">3300</text></g>
<g style="font-size:9px;fill:#777;text-anchor:end">
<text transform="translate(101,4418) rotate(-90)">9月8日</text><text transform="translate(125,4418) rotate(-90)">9月15日</text><text transform="translate(150,4418) rotate(-90)">9月22日</text><text transform="translate(174,4418) rotate(-90)">9月29日</text><text transform="translate(199,4418) rotate(-90)">10月6日</text><text transform="translate(223,4418) rotate(-90)">10月13日</text><text transform="translate(248,4418) rotate(-90)">10月20日</text><text transform="translate(272,4418) rotate(-90)">10月27日</text><text transform="translate(297,4418) rotate(-90)">11月3日</text><text transform="translate(321,4418) rotate(-90)">11月10日</text><text transform="translate(346,4418) rotate(-90)">11月17日</text><text transform="translate(370,4418) rotate(-90)">11月24日</text><text transform="translate(395,4418) rotate(-90)">12月1日</text><text transform="translate(419,4418) rotate(-90)">12月8日</text><text transform="translate(444,4418) rotate(-90)">12月15日</text><text transform="translate(468,4418) rotate(-90)">12月22日</text><text transform="translate(493,4418) rotate(-90)">12月29日</text><text transform="translate(517,4418) rotate(-90)">1月5日</text><text transform="translate(542,4418) rotate(-90)">1月12日</text><text transform="translate(566,4418) rotate(-90)">1月19日</text><text transform="translate(591,4418) rotate(-90)">1月26日</text><text transform="translate(615,4418) rotate(-90)">2月2日</text><text transform="translate(640,4418) rotate(-90)">2月9日</text><text transform="translate(664,4418) rotate(-90)">2月16日</text><text transform="translate(689,4418) rotate(-90)">2月23日</text><text transform="translate(713,4418) rotate(-90)">3月2日</text><text transform="translate(738,4418) rotate(-90)">3月9日</text>
</g>
<polyline style="stroke:#2b4fa0;stroke-width:2.5;fill:none" points="98,4328 118,4328 120,4320 143,4320 143,4318 168,4318 169,4330 215,4330 216,4292 240,4292 240,4294 275,4294 275,4293 290,4293 290,4301 313,4301 314,4332 336,4332 336,4328 362,4328 362,4322 387,4322 387,4315 402,4315 403,4302 437,4302 438,4276 462,4276 462,4274 485,4274 486,4264 508,4264 508,4262 535,4262 536,4268 558,4268 559,4279 605,4279 605,4281 632,4281 633,4275 656,4275 657,4266 680,4266 680,4261 705,4261 705,4259 728,4259 735,4260"/>
<polyline style="stroke:#d01010;stroke-width:2.2;fill:none;stroke-linejoin:round" points="98,4313 103,4306 118,4306 120,4313 125,4308 127,4322 137,4326 145,4338 150,4324 165,4324 169,4311 174,4316 205,4308 210,4306 215,4328 222,4323 236,4324 240,4332 246,4338 258,4328 263,4342 269,4342 274,4357 285,4383 292,4373 297,4367 313,4368 318,4363 323,4358 336,4355 341,4347 351,4347 358,4362 364,4355 372,4350 385,4347 390,4348 397,4347 408,4328 415,4327 426,4303 438,4283 441,4282 450,4297 459,4308 464,4298 482,4308 487,4297 495,4291 508,4297 513,4313 518,4292 531,4290 536,4277 544,4274 554,4287 562,4287 579,4270 603,4262 608,4280 615,4284 628,4295 636,4288 651,4300 662,4283 667,4268 677,4267 679,4253 687,4250 697,4260 707,4259 713,4238 723,4247 728,4243 736,4244"/>
<text x="3" y="4491" class="p" textLength="792">本周（3月8日）唐山地区样本长流程钢厂，钢坯含税累计成本（调研值，不含三费）均值为3908元，周环比降2</text>
<text x="3" y="4513" class="p">元。</text>
</svg>

<table class="t" style="left:82px;top:1260px;width:648px"><colgroup><col style="width:25px"><col span="16"></colgroup>
<tr style="height:15px"><td></td><td>23/2/16</td><td>23/2/17</td><td>23/2/20</td><td>23/2/21</td><td>23/2/22</td><td>23/2/23</td><td>23/2/24</td><td>23/2/27</td><td>23/2/28</td><td>23/3/1</td><td>23/3/2</td><td>23/3/3</td><td>23/3/6</td><td>23/3/7</td><td>23/3/8</td><td>23/3/9</td></tr>
<tr style="height:15px"><td>期货</td><td>4146</td><td>4240</td><td>4184</td><td>4195</td><td>4237</td><td>4228</td><td>4224</td><td>4191</td><td>4174</td><td>4216</td><td>4225</td><td>4272</td><td>4210</td><td>4248</td><td>4249</td><td>4250</td></tr>
<tr style="height:15px"><td>方坯</td><td>3850</td><td>3870</td><td>3870</td><td>3930</td><td>3930</td><td>3950</td><td>3930</td><td>3900</td><td>3900</td><td>3920</td><td>3940</td><td>3990</td><td>3940</td><td>3970</td><td>3970</td><td>3970</td></tr>
<tr style="height:15px"><td>价差</td><td>296</td><td>370</td><td>314</td><td>265</td><td>307</td><td>278</td><td>294</td><td>291</td><td>274</td><td>296</td><td>285</td><td>282</td><td>270</td><td>278</td><td>279</td><td>280</td></tr>
</table>

<table class="t" style="left:20px;top:1617px;width:752px;font-size:11px"><colgroup><col style="width:47px"><col span="15"></colgroup>
<tr style="height:16px"><td></td><td>23/2/16</td><td>23/2/17</td><td>23/2/20</td><td>23/2/21</td><td>23/2/22</td><td>23/2/23</td><td>23/2/24</td><td>23/2/27</td><td>23/2/28</td><td>23/3/1</td><td>23/3/2</td><td>23/3/3</td><td>23/3/6</td><td>23/3/7</td><td>23/3/8</td></tr>
<tr style="height:15px"><td>唐山螺纹</td><td>4090</td><td>4150</td><td>4140</td><td>4190</td><td>4200</td><td>4200</td><td>4170</td><td>4170</td><td>4150</td><td>4170</td><td>4190</td><td>4200</td><td>4180</td><td>4190</td><td>4200</td></tr>
<tr style="height:16px"><td>迁安方坯</td><td>3850</td><td>3870</td><td>3870</td><td>3930</td><td>3930</td><td>3950</td><td>3930</td><td>3900</td><td>3900</td><td>3920</td><td>3940</td><td>3990</td><td>3940</td><td>3970</td><td>3970</td></tr>
<tr style="height:16px"><td>价差</td><td>240</td><td>280</td><td>270</td><td>260</td><td>270</td><td>250</td><td>240</td><td>270</td><td>250</td><td>250</td><td>250</td><td>210</td><td>240</td><td>220</td><td>230</td></tr>
</table>

<table class="t" style="left:49px;top:1967px;width:703px;font-size:10.5px"><colgroup><col style="width:48px"><col span="16"></colgroup>
<tr style="height:18px"><td></td><td>23/2/16</td><td>23/2/17</td><td>23/2/20</td><td>23/2/21</td><td>23/2/22</td><td>23/2/23</td><td>23/2/24</td><td>23/2/27</td><td>23/2/28</td><td>23/3/1</td><td>23/3/2</td><td>23/3/3</td><td>23/3/6</td><td>23/3/7</td><td>23/3/8</td><td>23/3/9</td></tr>
<tr style="height:19px"><td>唐山角钢</td><td>4210</td><td>4230</td><td>4210</td><td>4270</td><td>4290</td><td>4310</td><td>4310</td><td>4340</td><td>4320</td><td>4320</td><td>4320</td><td>4380</td><td>4380</td><td>4390</td><td>4390</td><td>4370</td></tr>
<tr style="height:19px"><td>迁安方坯</td><td>3850</td><td>3870</td><td>3870</td><td>3930</td><td>3930</td><td>3950</td><td>3930</td><td>3900</td><td>3900</td><td>3920</td><td>3940</td><td>3990</td><td>3940</td><td>3970</td><td>3970</td><td>3970</td></tr>
<tr style="height:19px"><td>价差</td><td>360</td><td>360</td><td>340</td><td>340</td><td>360</td><td>360</td><td>380</td><td>440</td><td>420</td><td>400</td><td>380</td><td>390</td><td>440</td><td>420</td><td>420</td><td>400</td></tr>
</table>

<table class="t" style="left:41px;top:2287px;width:734px;font-size:10.5px"><colgroup><col style="width:47px"><col span="16"></colgroup>
<tr style="height:16px"><td></td><td>23/2/16</td><td>23/2/17</td><td>23/2/20</td><td>23/2/21</td><td>23/2/22</td><td>23/2/23</td><td>23/2/24</td><td>23/2/27</td><td>23/2/28</td><td>23/3/1</td><td>23/3/2</td><td>23/3/3</td><td>23/3/6</td><td>23/3/7</td><td>23/3/8</td><td>23/3/9</td></tr>
<tr style="height:15px"><td>小窄带</td><td>4120</td><td>4140</td><td>4140</td><td>4190</td><td>4210</td><td>4220</td><td>4200</td><td>4220</td><td>4190</td><td>4210</td><td>4230</td><td>4290</td><td>4270</td><td>4290</td><td>4290</td><td>4290</td></tr>
<tr style="height:15px"><td>迁安方坯</td><td>3850</td><td>3870</td><td>3870</td><td>3930</td><td>3930</td><td>3950</td><td>3930</td><td>3900</td><td>3900</td><td>3920</td><td>3940</td><td>3990</td><td>3940</td><td>3970</td><td>3970</td><td>3970</td></tr>
<tr style="height:14px"><td></td><td>270</td><td>270</td><td>270</td><td>260</td><td>280</td><td>270</td><td>270</td><td>320</td><td>290</td><td>290</td><td>290</td><td>300</td><td>330</td><td>320</td><td>320</td><td>320</td></tr>
</table>

<table class="t" style="left:54px;top:2640px;width:679px;font-size:10px"><colgroup><col style="width:56px"><col span="18"></colgroup>
<tr style="height:17px"><td></td><td>23/2/13</td><td>23/2/14</td><td>23/2/15</td><td>23/2/16</td><td>23/2/17</td><td>23/2/20</td><td>23/2/21</td><td>23/2/22</td><td>23/2/23</td><td>23/2/24</td><td>23/2/27</td><td>23/2/28</td><td>23/3/1</td><td>23/3/2</td><td>23/3/3</td><td>23/3/6</td><td>23/3/7</td><td>23/3/8</td></tr>
<tr style="height:16px"><td>唐山铁精粉</td><td>1030</td><td>1030</td><td>1030</td><td>1030</td><td>1030</td><td>1040</td><td>1055</td><td>1055</td><td>1055</td><td>1055</td><td>1065</td><td>1065</td><td>1060</td><td>1060</td><td>1065</td><td>1080</td><td>1080</td><td>1080</td></tr>
<tr style="height:17px"><td>迁安方坯</td><td>3750</td><td>3770</td><td>3800</td><td>3850</td><td>3870</td><td>3870</td><td>3930</td><td>3930</td><td>3950</td><td>3930</td><td>3900</td><td>3900</td><td>3920</td><td>3940</td><td>3990</td><td>3940</td><td>3970</td><td>3970</td></tr>
</table>

<table class="t" style="left:42px;top:2977px;width:728px;font-size:10.5px"><colgroup><col style="width:36px"><col span="17"></colgroup>
<tr style="height:17px"><td></td><td>23/2/14</td><td>23/2/15</td><td>23/2/16</td><td>23/2/17</td><td>23/2/20</td><td>23/2/21</td><td>23/2/22</td><td>23/2/23</td><td>23/2/24</td><td>23/2/27</td><td>23/2/28</td><td>23/3/1</td><td>23/3/2</td><td>23/3/3</td><td>23/3/6</td><td>23/3/7</td><td>23/3/8</td></tr>
<tr style="height:17px"><td>螺矿比</td><td>3.92</td><td>3.94</td><td>3.96</td><td>4.01</td><td>3.98</td><td>3.97</td><td>3.99</td><td>4.00</td><td>3.97</td><td>3.93</td><td>3.92</td><td>3.95</td><td>3.96</td><td>3.96</td><td>3.89</td><td>3.90</td><td>3.91</td></tr>
<tr style="height:17px"><td>坯矿比</td><td>3.66</td><td>3.69</td><td>3.74</td><td>3.76</td><td>3.72</td><td>3.73</td><td>3.73</td><td>3.74</td><td>3.73</td><td>3.66</td><td>3.66</td><td>3.70</td><td>3.72</td><td>3.75</td><td>3.65</td><td>3.68</td><td>3.68</td></tr>
<tr style="height:17px"><td>卷矿比</td><td>3.97</td><td>3.97</td><td>4.02</td><td>4.08</td><td>4.04</td><td>4.02</td><td>4.04</td><td>4.05</td><td>4.06</td><td>4.02</td><td>3.99</td><td>4.03</td><td>4.03</td><td>4.05</td><td>3.97</td><td>3.99</td><td>4.01</td></tr>
</table>
</body></html>
